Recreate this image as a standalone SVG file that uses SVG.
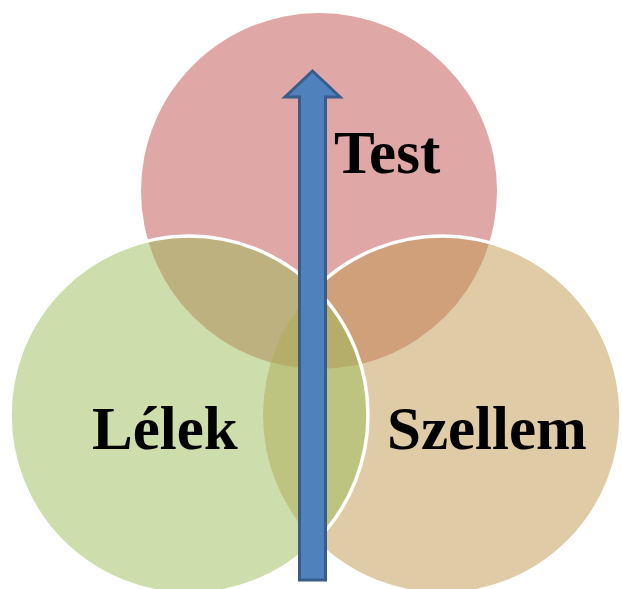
<svg xmlns="http://www.w3.org/2000/svg" width="622" height="589" viewBox="0 0 622 589">
  <style>
    .fill { stroke: none; fill-opacity: 0.5; }
    .rim { fill: none; stroke: #ffffff; stroke-width: 3.5; }
    .label { font-family: "Liberation Serif", "Times New Roman", serif; font-weight: bold; font-size: 61px; fill: #000000; }
    .arrow { fill: #4f81bd; stroke: #385d8a; stroke-width: 3; stroke-linejoin: miter; }
  </style>
  <defs>
    <!-- hides the Szellem rim where the Lélek circle lies over it -->
    <mask id="outsideLelek" maskUnits="userSpaceOnUse" x="0" y="0" width="622" height="589">
      <rect x="0" y="0" width="622" height="589" fill="#ffffff"/>
      <circle cx="189" cy="415" r="179" fill="#000000"/>
    </mask>
  </defs>

  <rect x="0" y="0" width="622" height="589" fill="#ffffff"/>

  <g id="test">
    <circle class="fill" cx="319" cy="191" r="178" fill="#c0504d"/>
    <text class="label" x="334" y="173" font-size="58">Test</text>
  </g>

  <g id="szellem">
    <circle class="fill" cx="442" cy="415" r="179" fill="#bf994d"/>
    <circle class="rim" cx="442" cy="415" r="179" mask="url(#outsideLelek)"/>
    <text class="label" x="387" y="449">Szellem</text>
  </g>

  <g id="lelek">
    <circle class="fill" cx="189" cy="415" r="179" fill="#9bbb59"/>
    <circle class="rim" cx="189" cy="415" r="179"/>
    <text class="label" x="92" y="449">Lélek</text>
  </g>

  <g id="connectors">
    <polygon class="arrow" points="312.5,71 340,97 325.5,97 325.5,580 299.5,580 299.5,97 285,97"/>
  </g>
</svg>
